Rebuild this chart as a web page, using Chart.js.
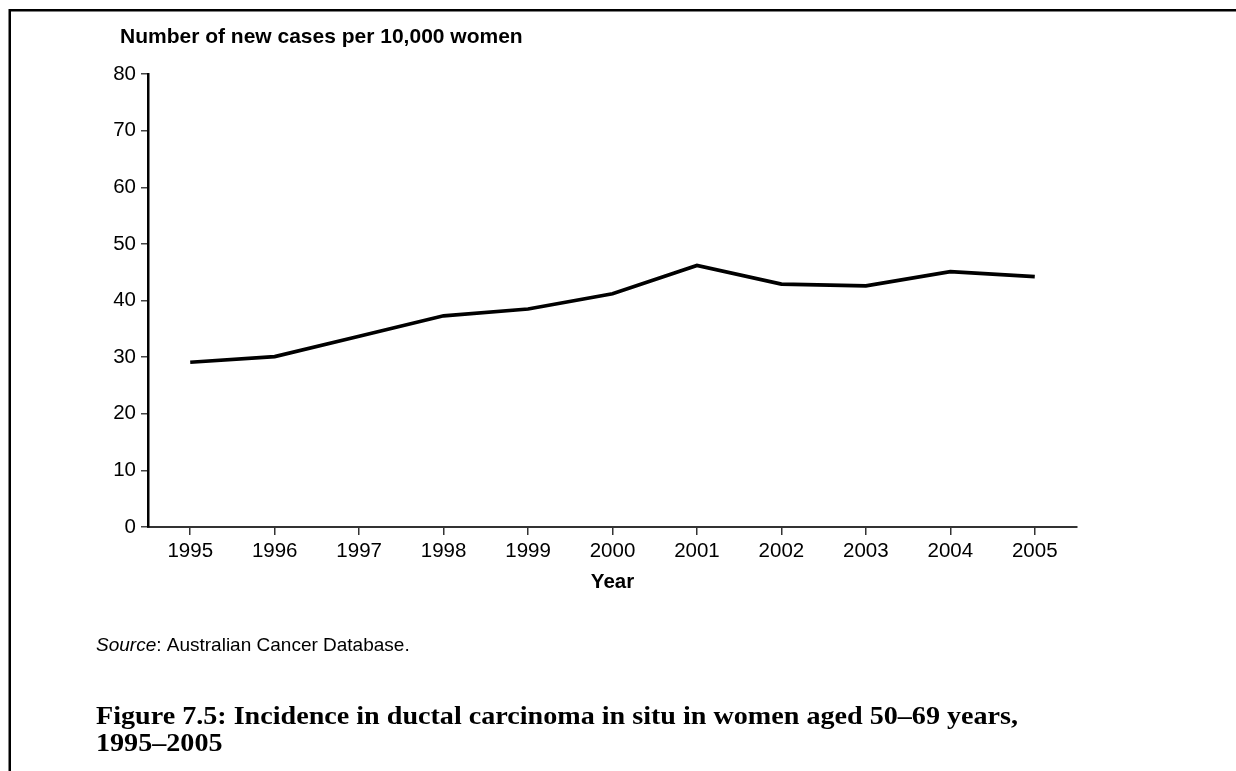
<!DOCTYPE html>
<html lang="en">
<head>
<meta charset="UTF-8" />
<title>Ductal carcinoma in situ incidence</title>
<script src="https://cdn.jsdelivr.net/npm/chart.js@4/dist/chart.umd.min.js"></script>
<style>
  html, body { margin: 0; padding: 0; background: #fff; }
  canvas { display: block; }
</style>
</head>
<body>
<canvas id="chart" width="1236" height="771"></canvas>
<script>
// values
const years = ['1995', '1996', '1997', '1998', '1999', '2000', '2001', '2002', '2003', '2004', '2005'];
const casesPer10k = [29.1, 30.1, 33.7, 37.3, 38.5, 41.2, 46.2, 42.9, 42.6, 45.1, 44.2];
const yTicks = [0, 10, 20, 30, 40, 50, 60, 70, 80];

const yTitle = 'Number of new cases per 10,000 women';
const xTitle = 'Year';
const sourceLabel = 'Source';
const sourceText = ': Australian Cancer Database.';
const figTitle = ['Figure 7.5: Incidence in ductal carcinoma in situ in women aged 50\u201369 years,', '1995\u20132005'];

const sans = '"Liberation Sans", Arial, sans-serif';
const serif = '"Liberation Serif", "Times New Roman", serif';

// frame + texts that sit outside the axes
const extras = {
  id: 'extras',
  afterDraw(chart) {
    const ctx = chart.ctx;
    ctx.save();
    ctx.strokeStyle = '#000';
    ctx.lineWidth = 2.5;
    ctx.beginPath();
    ctx.moveTo(9.75, 771);
    ctx.lineTo(9.75, 10.25);
    ctx.lineTo(1236, 10.25);
    ctx.stroke();

    ctx.fillStyle = '#000';
    ctx.textBaseline = 'alphabetic';
    ctx.textAlign = 'left';
    ctx.font = 'bold 21px ' + sans;
    ctx.fillText(yTitle, 120, 42.5);

    ctx.font = 'italic 19px ' + sans;
    ctx.fillText(sourceLabel, 96, 650.5);
    const w = ctx.measureText(sourceLabel).width;
    ctx.font = '19px ' + sans;
    ctx.fillText(sourceText, 96 + w, 650.5);

    // caption: Times-like face, widened a little so line 1 ends near x=1018
    ctx.font = 'bold 25px ' + serif;
    const tw = ctx.measureText(figTitle[0]).width;
    const sx = Math.max(1, Math.min(1.15, 922 / tw));
    ctx.translate(96, 0);
    ctx.scale(sx, 1);
    ctx.fillText(figTitle[0], 0, 723.5);
    ctx.fillText(figTitle[1], 0, 751);
    ctx.restore();
  }
};

const ctx = document.getElementById('chart').getContext('2d');
new Chart(ctx, {
  type: 'line',
  data: {
    labels: years,
    datasets: [{
      data: casesPer10k,
      borderColor: '#000',
      borderWidth: 3.7,
      pointRadius: 0,
      tension: 0,
      fill: false
    }]
  },
  options: {
    responsive: false,
    animation: false,
    layout: { padding: { left: 0, right: 159, top: 74, bottom: 174 } },
    plugins: {
      legend: { display: false },
      tooltip: { enabled: false }
    },
    scales: {
      x: {
        offset: true,
        grid: { display: true, drawOnChartArea: false, offset: false, tickLength: 8, color: '#333', lineWidth: 1.5 },
        border: { color: '#333', width: 2 },
        ticks: { color: '#000', font: { family: sans, size: 20.5 }, padding: 4, maxRotation: 0 },
        title: { display: true, text: xTitle, color: '#000', font: { family: sans, size: 20.5, weight: 'bold' }, padding: { top: 0, bottom: 2 } },
        afterFit(s) { s.height = 70; }
      },
      y: {
        min: 0,
        max: 80,
        afterBuildTicks(s) { s.ticks = yTicks.map(v => ({ value: v })); },
        grid: { display: true, drawOnChartArea: false, tickLength: 7, color: '#444', lineWidth: 1.5 },
        border: { color: '#000', width: 2.5 },
        ticks: { color: '#000', font: { family: sans, size: 20.5 }, padding: 5 },
        afterFit(s) { s.width = 148; }
      }
    }
  },
  plugins: [extras]
});
</script>
</body>
</html>
